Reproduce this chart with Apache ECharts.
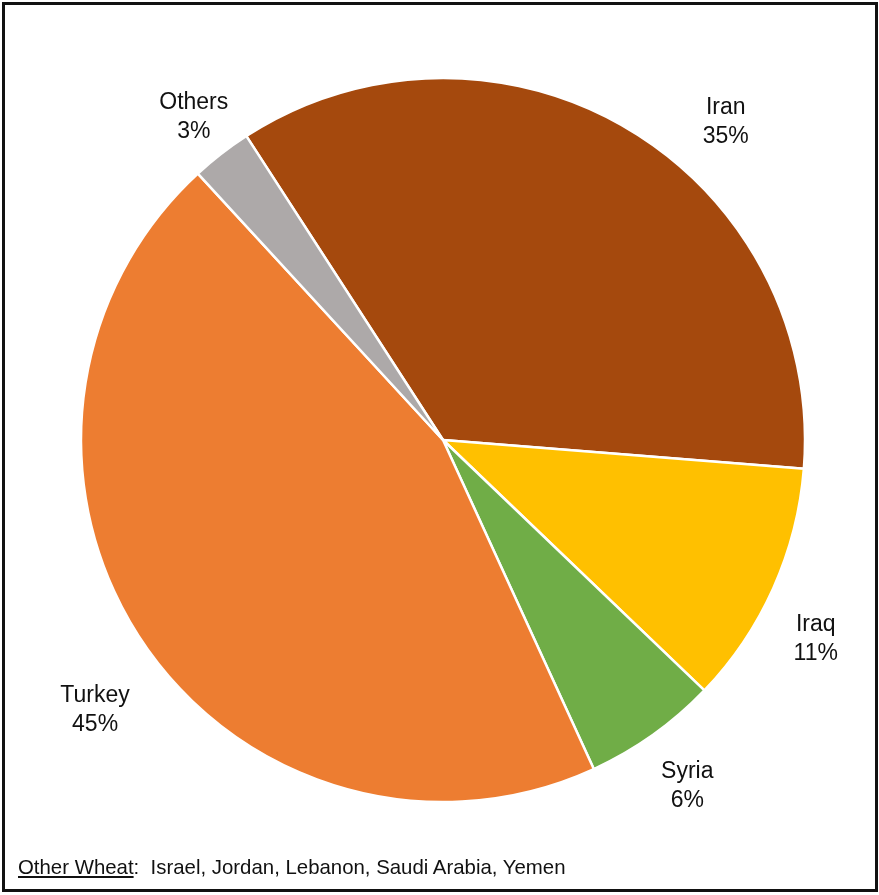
<!DOCTYPE html>
<html>
<head>
    <meta charset="utf-8">
    <title>Wheat Pie</title>
    <script src="https://cdn.jsdelivr.net/npm/echarts@6/dist/echarts.min.js"></script>
    <style>
        body { margin: 0; background: #fff; }
        #main { position: absolute; left: 0; top: 0; width: 879px; height: 895px; }
        #frame { position: absolute; left: 2px; top: 2px; width: 870px; height: 884px;
                 border: 3px solid #111; pointer-events: none; }
        #note { position: absolute; left: 18px; top: 856px; font-family: "Liberation Sans", Arial, sans-serif;
                font-size: 20.4px; color: #111; white-space: pre; }
    </style>
</head>
<body>
    <div id="main"></div>
    <div id="frame"></div>
    <div id="note"><u>Other Wheat</u>:  Israel, Jordan, Lebanon, Saudi Arabia, Yemen</div>
    <script type="text/javascript">
        var countries = ['Iran', 'Iraq', 'Syria', 'Turkey', 'Others'];
        var shares = [35.4, 10.9, 6.0, 45.0, 2.7];
        var colors = ['#A5490D', '#FFC000', '#70AD47', '#ED7D31', '#ADA9A9'];

        var myChart = echarts.init(document.getElementById('main'));

        // small nudges so the labels sit where the original "best fit" put them
        var nudge = {
            Iran: [65, 47],
            Iraq: [-15, 25],
            Syria: [-2, 0],
            Turkey: [6, 35],
            Others: [11, 13]
        };

        var pieData = [];
        for (i = 0; i < countries.length; i++) {
            pieData.push({
                name: countries[i],
                value: shares[i],
                itemStyle: { color: colors[i] }
            });
        }

        // second transparent ring only carries the centred labels
        var labelData = [];
        for (i = 0; i < countries.length; i++) {
            labelData.push({
                name: countries[i],
                value: shares[i],
                label: { offset: nudge[countries[i]] }
            });
        }

        option = {
            animation: false,
            series: [
                {
                    type: 'pie',
                    center: [443, 440],
                    radius: 362,
                    startAngle: 122.9,
                    clockwise: true,
                    silent: true,
                    itemStyle: { borderColor: '#fff', borderWidth: 2.5 },
                    label: { show: false },
                    labelLine: { show: false },
                    data: pieData
                },
                {
                    type: 'pie',
                    center: [443, 440],
                    radius: [400, 444],
                    startAngle: 122.9,
                    clockwise: true,
                    silent: true,
                    itemStyle: { color: 'rgba(0,0,0,0)' },
                    label: {
                        show: true,
                        position: 'inside',
                        color: '#111',
                        fontFamily: 'Liberation Sans',
                        fontSize: 23,
                        lineHeight: 29,
                        align: 'center',
                        formatter: function (p) {
                            return p.name + '\n' + Math.round(p.percent) + '%';
                        }
                    },
                    labelLine: { show: false },
                    data: labelData
                }
            ]
        };
        myChart.setOption(option);
    </script>
</body>
</html>
